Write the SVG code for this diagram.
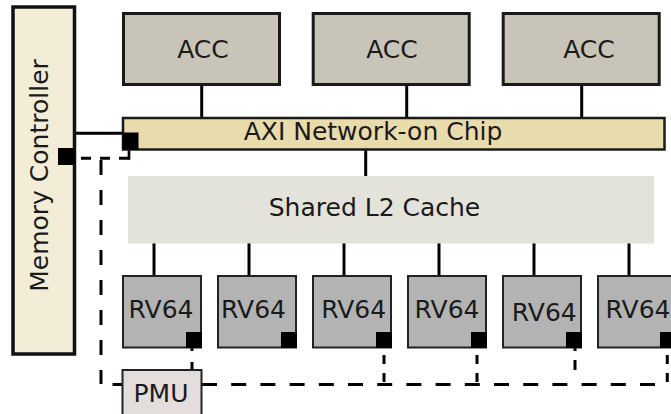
<svg xmlns="http://www.w3.org/2000/svg" width="671" height="414" viewBox="0 0 671 414">
  <style>
    text { font-family: "DejaVu Sans", "Liberation Sans", sans-serif; font-size: 25px; fill: #1a1a1a; text-anchor: middle; }
    .acc { fill: #c8c4b7; stroke: #1a1a1a; stroke-width: 3; }
    .noc { fill: #e8dbac; stroke: #1a1a1a; stroke-width: 2.5; }
    .mc { fill: #f3ecd7; stroke: #111; stroke-width: 3.5; }
    .l2 { fill: #e3e2db; }
    .rv { fill: #b3b3b3; stroke: #222; stroke-width: 2; }
    .pmu { fill: #e3dedb; stroke: #222; stroke-width: 2; }
    .port { fill: #000; }
    .link { stroke: #000; stroke-width: 3; fill: none; }
    .dash { stroke: #000; stroke-width: 3; fill: none; }
  </style>

  <!-- connectors -->
  <g id="connectors">
    <!-- accelerators to NoC -->
    <line class="link" x1="201.7" y1="85" x2="201.7" y2="118"/>
    <line class="link" x1="406.7" y1="85" x2="406.7" y2="118"/>
    <line class="link" x1="581.7" y1="85" x2="581.7" y2="118"/>
    <!-- memory controller to NoC -->
    <line class="link" x1="75" y1="133.3" x2="123" y2="133.3"/>
    <!-- NoC to L2 -->
    <line class="link" x1="365.7" y1="149" x2="365.7" y2="180"/>
    <!-- L2 to cores -->
    <line class="link" x1="154" y1="243" x2="154" y2="276"/>
    <line class="link" x1="249" y1="243" x2="249" y2="276"/>
    <line class="link" x1="344" y1="243" x2="344" y2="276"/>
    <line class="link" x1="439" y1="243" x2="439" y2="276"/>
    <line class="link" x1="534" y1="243" x2="534" y2="276"/>
    <line class="link" x1="629" y1="243" x2="629" y2="276"/>

    <!-- power management bus (dashed) -->
    <path class="dash" d="M75,158.3 H129" stroke-dasharray="10 9" stroke-dashoffset="13"/>
    <line x1="129" y1="149" x2="129" y2="159.7" stroke="#000" stroke-width="2.7"/>
    <path class="dash" d="M101,160 V384" stroke-dasharray="15 15"/>
    <line class="dash" x1="112.5" y1="384.5" x2="122" y2="384.5"/>
    <path class="dash" d="M202,384.5 H667" stroke-dasharray="15 14.2"/>
    <path class="dash" d="M192,348 V370" stroke-dasharray="3 11 8 20"/>
    <path class="dash" d="M384,348 V384" stroke-dasharray="9 9" stroke-dashoffset="11"/>
    <path class="dash" d="M477,348 V384" stroke-dasharray="9 9" stroke-dashoffset="11"/>
    <path class="dash" d="M575,348 V384" stroke-dasharray="3 9 10 30"/>
    <path class="dash" d="M667.3,348 V384" stroke-dasharray="9 9" stroke-dashoffset="11"/>
  </g>

  <!-- memory controller -->
  <g id="memory-controller">
    <rect class="mc" x="13" y="7" width="61.5" height="347"/>
    <rect class="port" x="58" y="148" width="17" height="17"/>
    <text transform="translate(48,175.5) rotate(-90)">Memory Controller</text>
  </g>

  <!-- accelerators -->
  <g id="acc-1">
    <rect class="acc" x="123.5" y="13.5" width="156" height="71"/>
    <text x="203" y="58">ACC</text>
  </g>
  <g id="acc-2">
    <rect class="acc" x="313.2" y="13.5" width="156" height="71"/>
    <text x="392" y="58">ACC</text>
  </g>
  <g id="acc-3">
    <rect class="acc" x="503.2" y="13.5" width="156" height="71"/>
    <text x="589" y="58">ACC</text>
  </g>

  <!-- interconnect -->
  <g id="noc">
    <rect class="noc" x="123" y="118" width="541.5" height="31.5"/>
    <rect class="port" x="122.5" y="132.5" width="16" height="17"/>
    <text x="373" y="140">AXI Network-on Chip</text>
  </g>

  <!-- shared cache -->
  <g id="l2-cache">
    <rect class="l2" x="128" y="176" width="526" height="67.5"/>
    <text x="374.5" y="216">Shared L2 Cache</text>
  </g>

  <!-- cores -->
  <g id="rv64-1">
    <rect class="rv" x="123" y="276" width="78" height="71.5"/>
    <rect class="port" x="186" y="332" width="16" height="16"/>
    <text x="161" y="318">RV64</text>
  </g>
  <g id="rv64-2">
    <rect class="rv" x="218" y="276" width="78" height="71.5"/>
    <rect class="port" x="281" y="332" width="16" height="16"/>
    <text x="253.5" y="318">RV64</text>
  </g>
  <g id="rv64-3">
    <rect class="rv" x="313" y="276" width="78" height="71.5"/>
    <rect class="port" x="376" y="332" width="16" height="16"/>
    <text x="353.7" y="318">RV64</text>
  </g>
  <g id="rv64-4">
    <rect class="rv" x="408" y="276" width="78" height="71.5"/>
    <rect class="port" x="471" y="332" width="16" height="16"/>
    <text x="447" y="318">RV64</text>
  </g>
  <g id="rv64-5">
    <rect class="rv" x="503" y="276" width="78" height="71.5"/>
    <rect class="port" x="566" y="332" width="16" height="16"/>
    <text x="544.3" y="320.5">RV64</text>
  </g>
  <g id="rv64-6">
    <rect class="rv" x="598" y="276" width="78" height="71.5"/>
    <rect class="port" x="660" y="332" width="16" height="16"/>
    <text x="638" y="318">RV64</text>
  </g>

  <!-- power management unit -->
  <g id="pmu">
    <rect class="pmu" x="122.5" y="370" width="79" height="50"/>
    <text x="161" y="401.7">PMU</text>
  </g>
</svg>
